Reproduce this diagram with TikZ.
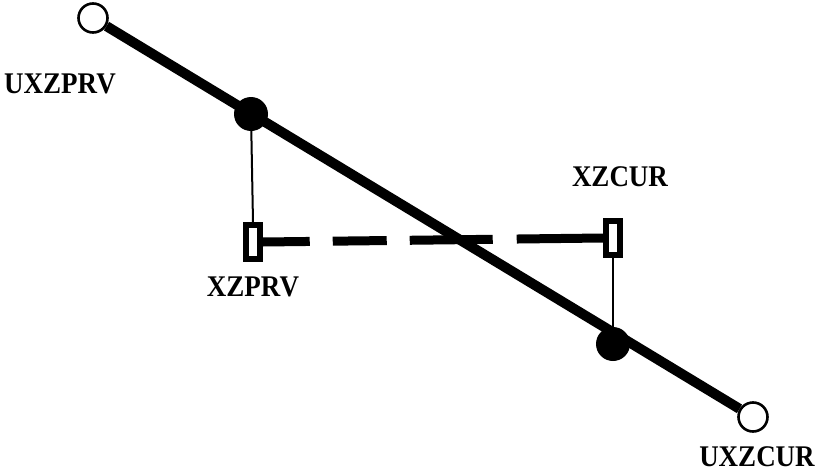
\documentclass[tikz,border=0pt]{standalone}
\usepackage{fontspec}
\newfontfamily\lblfont[FakeStretch=0.9]{Liberation Serif}
\begin{document}
\begin{tikzpicture}[x=1pt,y=-1pt,
  open/.style={circle,draw,line width=2.6pt,fill=white,minimum size=29pt,inner sep=0pt},
  full/.style={circle,fill=black,minimum size=34pt,inner sep=0pt},
  sbox/.style={rectangle,draw,line width=5.5pt,fill=white,minimum width=14pt,minimum height=34pt,inner sep=0pt},
  lbl/.style={font=\lblfont\bfseries\fontsize{30}{31}\selectfont,inner sep=0pt},
  thin/.style={line width=2pt},
  thick line/.style={line width=10pt},
  dash line/.style={line width=9pt,dash pattern=on 47pt off 23pt on 54pt off 23pt on 83pt off 24pt on 90pt off 100pt}]
\useasboundingbox (0,0) rectangle (823,474);
\node[open] (a) at (93,18) {};
\node[open] (b) at (753,417) {};
\draw[thick line] (a) -- (b);
\node[sbox] (bp) at (253,242) {};
\node[sbox] (bc) at (613,238) {};
\draw[dash line] (bp.east) -- (bc.west);
\node[full] (p) at (251,114) {};
\node[full] (q) at (613,344) {};
\draw[thin] (p) -- (bp.north);
\draw[thin] (bc.south) -- (q);
\node[lbl] (l1) at (60,84) {UXZPRV};
\node[lbl] (l2) at (253,287) {XZPRV};
\node[lbl] (l3) at (620,177) {XZCUR};
\node[lbl] (l4) at (757,457) {UXZCUR};
\end{tikzpicture}
\end{document}
